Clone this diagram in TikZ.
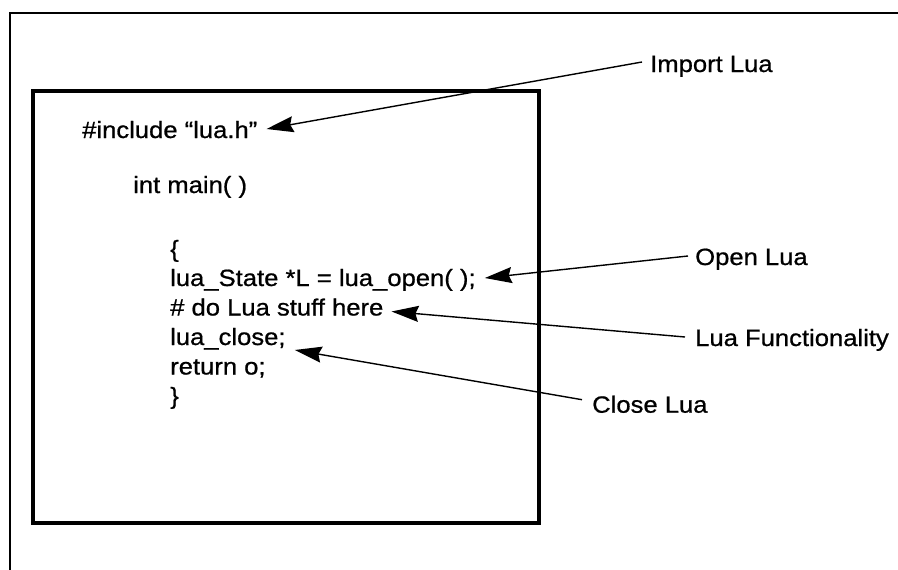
\documentclass[tikz,border=0pt]{standalone}
\usepackage{fontspec}
\setmainfont{Liberation Sans}[FakeStretch=1.09,FakeBold=0.8]
\usetikzlibrary{arrows.meta}
\begin{document}
\begin{tikzpicture}[x=1pt,y=-1pt,
  txt/.style={inner sep=0pt,anchor=base west,font=\fontsize{23.5}{28}\selectfont},
  arr/.style={line width=1.4pt,-{Stealth[length=27pt,width=16pt,inset=3pt]}},
  frame/.style={line width=2pt},
  codebox/.style={line width=4pt}]
\useasboundingbox (0,0) rectangle (898,570);
% frames
\draw[frame] (10,570) -- (10,13) -- (898,13);
\draw[codebox] (33,91) rectangle (538.5,522.5);
% code text
\node[txt] (inc) at (82,138) {\#include “lua.h”};
\node[txt] (mn)  at (133,193) {int main( )};
\node[txt] (ob)  at (170,257) {\{};
\node[txt] (ls)  at (170,286) {lua\_State *L = lua\_open( );};
\node[txt] (dl)  at (170,315.5) {\# do Lua stuff here};
\node[txt] (lc)  at (170,345) {lua\_close;};
\node[txt] (rt)  at (170,374.5) {return o;};
\node[txt] (cb)  at (170,404) {\}};
% labels
\node[txt] (imp) at (650,72) {Import Lua};
\node[txt] (op)  at (695,265) {Open Lua};
\node[txt] (fn)  at (695,346) {Lua Functionality};
\node[txt] (cl)  at (592,412.7) {Close Lua};
% connectors
\draw[arr] ([xshift=-8pt,yshift=10pt]imp.base west) -- ([xshift=9pt,yshift=9pt]inc.base east);
\draw[arr] ([xshift=-7pt,yshift=9pt]op.base west) -- ([xshift=9pt,yshift=8pt]ls.base east);
\draw[arr] ([xshift=-10pt,yshift=9pt]fn.base west) -- ([xshift=8pt,yshift=4pt]dl.base east);
\draw[arr] ([xshift=-10pt,yshift=13pt]cl.base west) -- ([xshift=9pt,yshift=-5pt]lc.base east);
\end{tikzpicture}
\end{document}
